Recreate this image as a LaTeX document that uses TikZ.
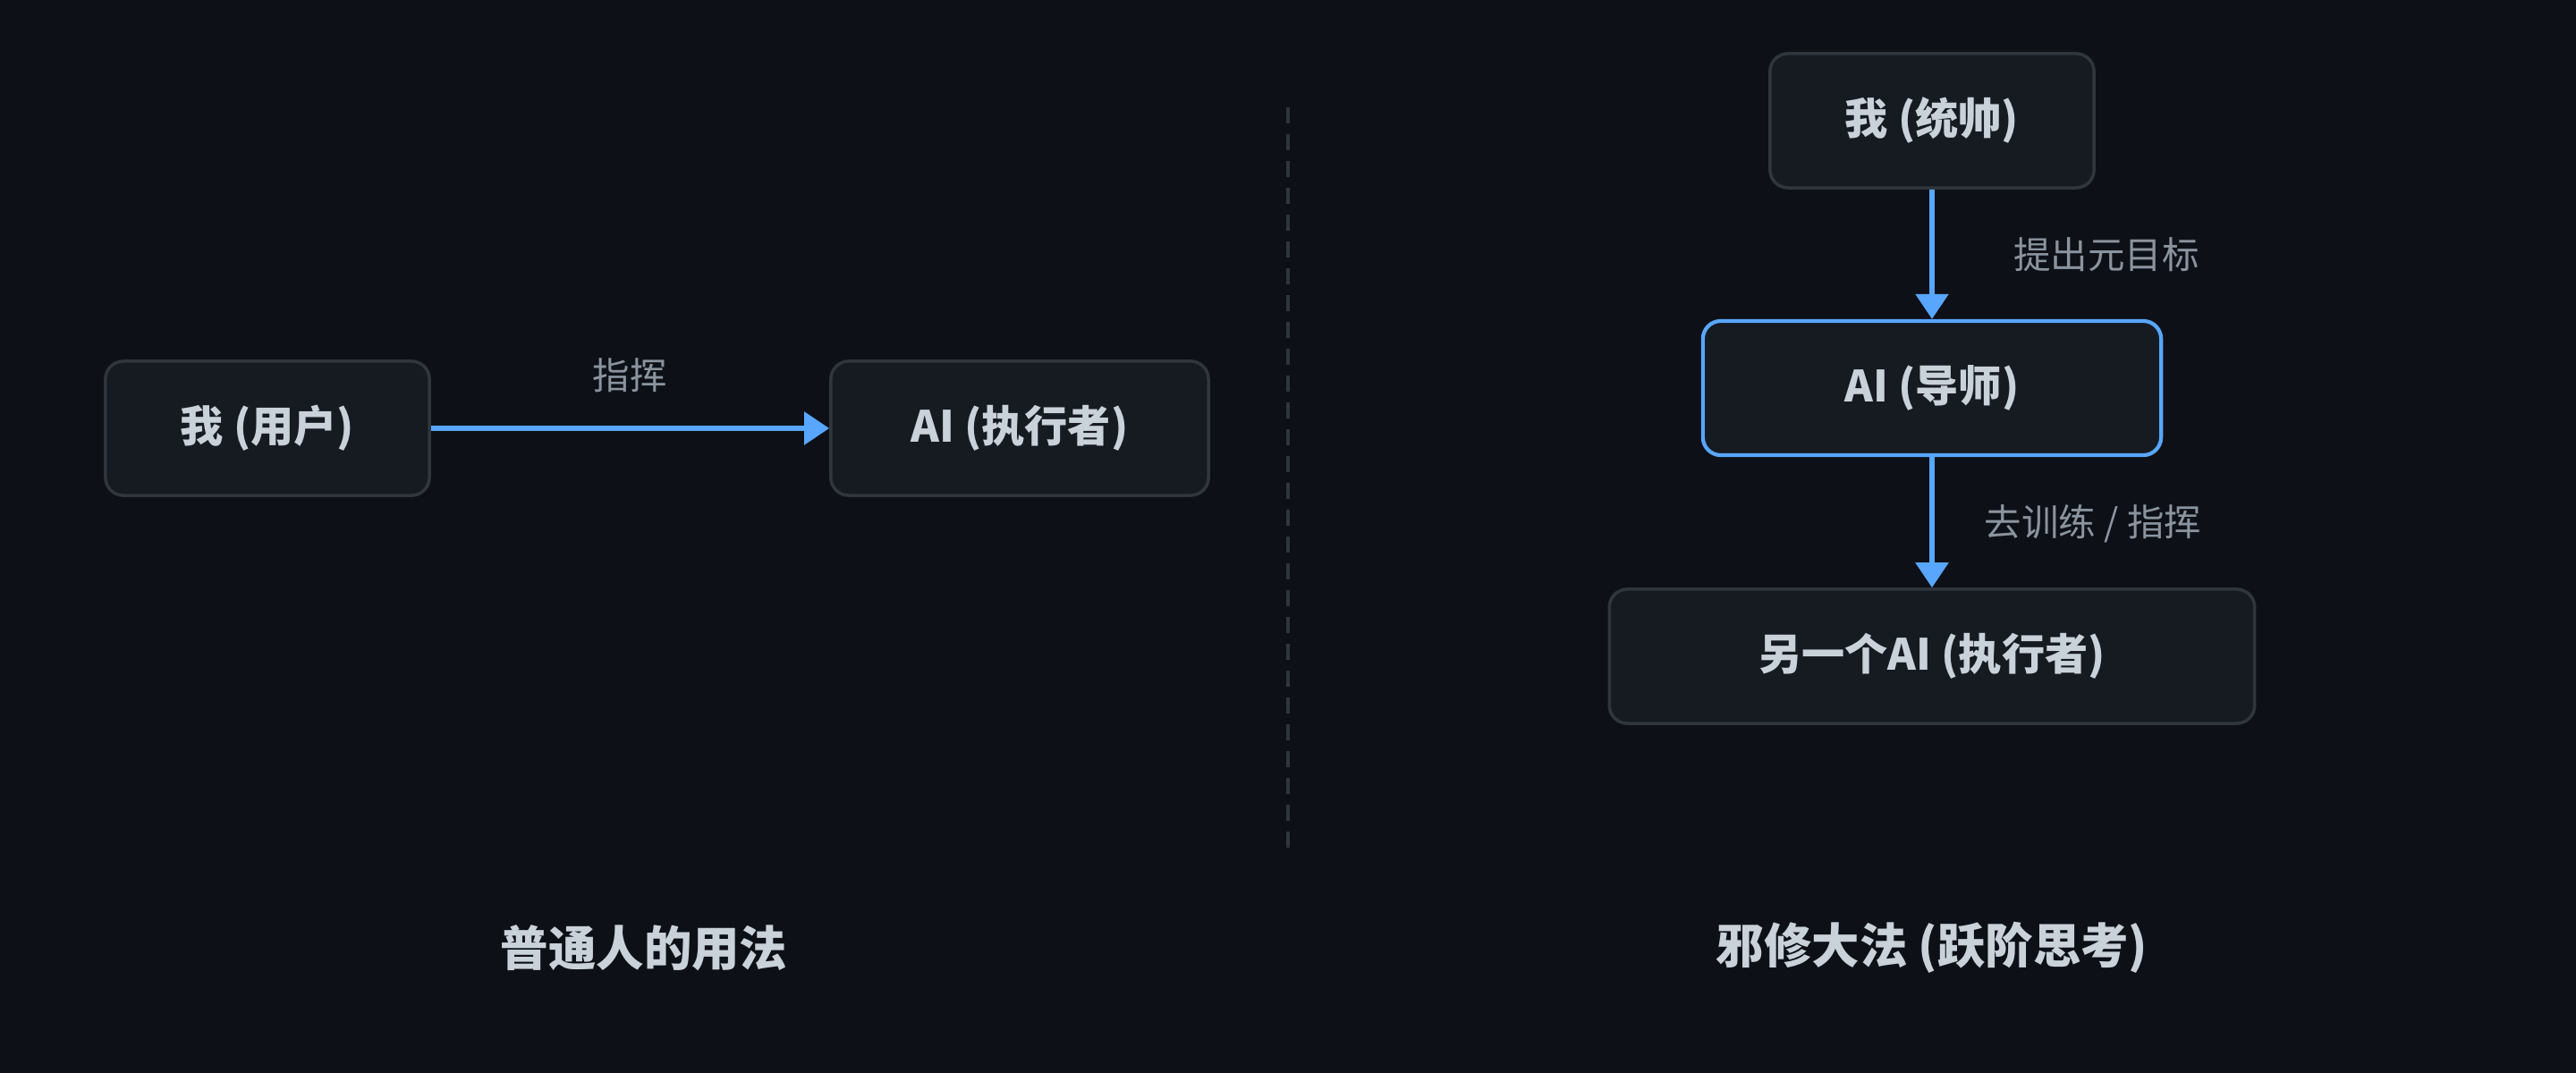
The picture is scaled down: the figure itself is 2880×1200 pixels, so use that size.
\documentclass[tikz,border=0pt]{standalone}
\usepackage{fontspec}
\setmainfont{Noto Sans CJK SC}
\usetikzlibrary{arrows.meta,positioning}

\definecolor{bgdark}{HTML}{0D1117}
\definecolor{boxfill}{HTML}{161B22}
\definecolor{boxline}{HTML}{30363D}
\definecolor{accent}{HTML}{58A6FF}
\definecolor{maintext}{HTML}{C9D1D9}
\definecolor{subtext}{HTML}{8B949E}

\tikzset{
  box/.style={draw=boxline, line width=1pt, fill=boxfill, rounded corners=0.2cm,
    minimum height=1.5cm, text=maintext, font=\fontsize{13.7}{16}\selectfont\bfseries},
  mentor/.style={box, draw=accent, line width=1.2pt},
  flow/.style={draw=accent, line width=1.6pt, -{Triangle[length=0.28cm,width=0.36cm]}},
  edgelabel/.style={text=subtext, font=\fontsize{11.8}{14}\selectfont},
  paneltitle/.style={text=maintext, font=\fontsize{15.2}{18}\selectfont\bfseries},
  divider/.style={draw=boxline, line width=1.4pt, dash pattern=on 0.18cm off 0.12cm}
}

\begin{document}
\begin{tikzpicture}[x=0.01cm, y=-0.01cm]

    % Фон
    \fill[bgdark] (0,0) rectangle (2880,1200);
    \useasboundingbox (0,0) rectangle (2880,1200);

    % Левая часть: обычное использование
    \node[box, minimum width=3.62cm] (user) at (299,479) {我 (用户)};
    \node[box, minimum width=4.22cm] (worker) at (1140,479) {AI (执行者)};
    \draw[flow] (user) -- (worker);
    \node[edgelabel] (cmdlabel) at (704,420) {指挥};

    % Разделитель
    \coordinate (divtop) at (1440,120);
    \coordinate (divbot) at (1440,948);
    \draw[divider] (divtop) -- (divbot);

    % Правая часть: цепочка
    \node[box, minimum width=3.62cm] (chief) at (2160,135) {我 (统帅)};
    \node[mentor, minimum width=5.12cm] (mentor) at (2160,434) {AI (导师)};
    \node[box, minimum width=7.21cm] (other) at (2160,734) {另一个AI (执行者)};
    \draw[flow] (chief) -- (mentor);
    \draw[flow] (mentor) -- (other);
    \node[edgelabel] (goallabel) at (2355,285) {提出元目标};
    \node[edgelabel] (trainlabel) at (2340,586) {去训练 / 指挥};

    % Подписи снизу
    \node[paneltitle] (lefttitle) at (720,1060) {普通人的用法};
    \node[paneltitle] (righttitle) at (2160,1060) {邪修大法 (跃阶思考)};
\end{tikzpicture}
\end{document}
